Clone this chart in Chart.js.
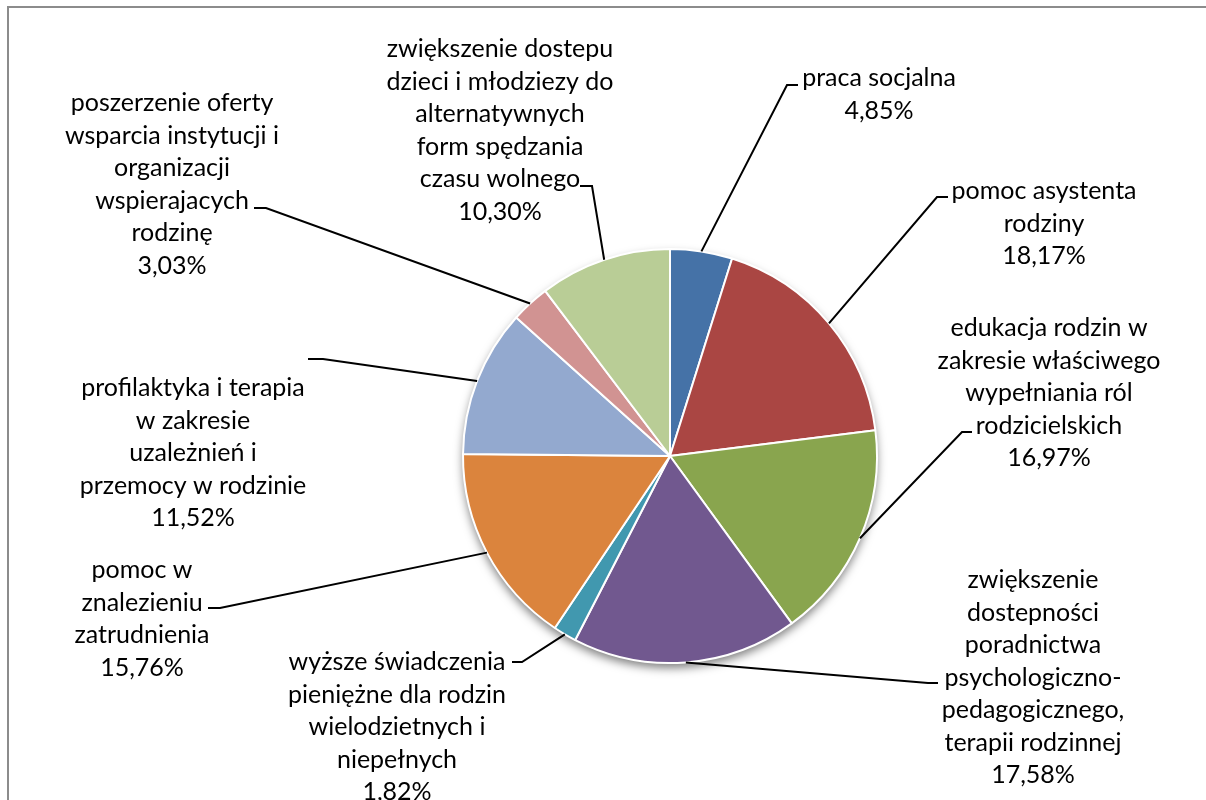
<!DOCTYPE html>
<html>
<head>
<meta charset="utf-8">
<script src="https://cdn.jsdelivr.net/npm/chart.js@4.4.1/dist/chart.umd.min.js"></script>
<style>
  html, body { margin: 0; padding: 0; background: #fff; }
  #wrap { width: 1206px; height: 800px; }
</style>
</head>
<body>
<div id="wrap"><canvas id="pieChart" width="1206" height="800"></canvas></div>
<script>
// Categories (already wrapped the way the labels are shown)
const categories = [
  ["praca socjalna"],
  ["pomoc asystenta", "rodziny"],
  ["edukacja rodzin w", "zakresie właściwego", "wypełniania ról", "rodzicielskich"],
  ["zwiększenie", "dostepności", "poradnictwa", "psychologiczno-", "pedagogicznego,", "terapii rodzinnej"],
  ["wyższe świadczenia", "pieniężne dla rodzin", "wielodzietnych i", "niepełnych"],
  ["pomoc w", "znalezieniu", "zatrudnienia"],
  ["profilaktyka i terapia", "w zakresie", "uzależnień i", "przemocy w rodzinie"],
  ["poszerzenie oferty", "wsparcia instytucji i", "organizacji", "wspierajacych", "rodzinę"],
  ["zwiększenie dostepu", "dzieci i młodziezy do", "alternatywnych", "form spędzania", "czasu wolnego"]
];

// Shares in percent
const shares = [4.85, 18.17, 16.97, 17.58, 1.82, 15.76, 11.52, 3.03, 10.30];

const sliceColors = [
  "#4572A7", "#AA4643", "#89A54E", "#71588F", "#4198AF",
  "#DB843D", "#93A9CF", "#D19392", "#B9CD96"
];

// where each label block sits and how its leader line bends
const labelLayout = [
  { cx: 879,  y0: 78,  elbow: [787, 85],  end: [798, 85] },
  { cx: 1044, y0: 191, elbow: [937, 197], end: [948, 197] },
  { cx: 1049, y0: 328, elbow: [962, 432], end: [972, 432] },
  { cx: 1033, y0: 580, elbow: [928, 683], end: [938, 683] },
  { cx: 397,  y0: 662, elbow: [522, 662], end: [512, 662] },
  { cx: 142,  y0: 570, elbow: [220, 608], end: [208, 608] },
  { cx: 193,  y0: 388, elbow: [323, 359], end: [308, 359] },
  { cx: 172,  y0: 103, elbow: [266, 208], end: [254, 208] },
  { cx: 500,  y0: 49,  elbow: [592, 186], end: [580, 186] }
];

const LINE_H = 32.5;
const FONT = "25px Lato, 'Open Sans', sans-serif";

function formatPct(v) {
  return v.toFixed(2).replace(".", ",") + "%";
}

// grey frame + soft shadow under the pie
const backdropPlugin = {
  id: "backdrop",
  beforeDraw(chart) {
    const ctx = chart.ctx;
    ctx.save();
    ctx.strokeStyle = "#8c8c8c";
    ctx.lineWidth = 2;
    ctx.beginPath();
    ctx.moveTo(8, 800);
    ctx.lineTo(8, 7);
    ctx.lineTo(1206, 7);
    ctx.stroke();
    ctx.restore();
  },
  beforeDatasetsDraw(chart) {
    const arc = chart.getDatasetMeta(0).data[0];
    if (!arc) return;
    const ctx = chart.ctx;
    ctx.save();
    ctx.shadowColor = "rgba(0,0,0,0.5)";
    ctx.shadowBlur = 10;
    ctx.shadowOffsetY = 5;
    ctx.fillStyle = "#fff";
    ctx.beginPath();
    ctx.arc(arc.x, arc.y, arc.outerRadius, 0, Math.PI * 2);
    ctx.fill();
    ctx.restore();
  }
};

// labels with leader lines
const leaderLabelPlugin = {
  id: "leaderLabels",
  afterDatasetsDraw(chart) {
    const ctx = chart.ctx;
    const meta = chart.getDatasetMeta(0);
    ctx.save();
    meta.data.forEach((arc, i) => {
      const lay = labelLayout[i];
      const mid = (arc.startAngle + arc.endAngle) / 2;
      const ax = arc.x + Math.cos(mid) * arc.outerRadius;
      const ay = arc.y + Math.sin(mid) * arc.outerRadius;

      ctx.strokeStyle = "#000";
      ctx.lineWidth = 2;
      ctx.beginPath();
      ctx.moveTo(ax, ay);
      ctx.lineTo(lay.elbow[0], lay.elbow[1]);
      ctx.lineTo(lay.end[0], lay.end[1]);
      ctx.stroke();

      const lines = chart.data.labels[i].concat([formatPct(shares[i])]);
      ctx.fillStyle = "#000";
      ctx.font = FONT;
      ctx.textAlign = "center";
      ctx.textBaseline = "middle";
      lines.forEach((t, k) => {
        ctx.fillText(t, lay.cx, lay.y0 + k * LINE_H);
      });
    });
    ctx.restore();
  }
};

new Chart(document.getElementById("pieChart"), {
  type: "pie",
  data: {
    labels: categories,
    datasets: [{
      data: shares,
      backgroundColor: sliceColors,
      borderColor: "#ffffff",
      borderWidth: 2
    }]
  },
  options: {
    responsive: false,
    devicePixelRatio: 1,
    animation: false,
    layout: {
      padding: { left: 462, right: 328, top: 248, bottom: 136 }
    },
    plugins: {
      legend: { display: false },
      tooltip: { enabled: false }
    }
  },
  plugins: [backdropPlugin, leaderLabelPlugin]
});
</script>
</body>
</html>
